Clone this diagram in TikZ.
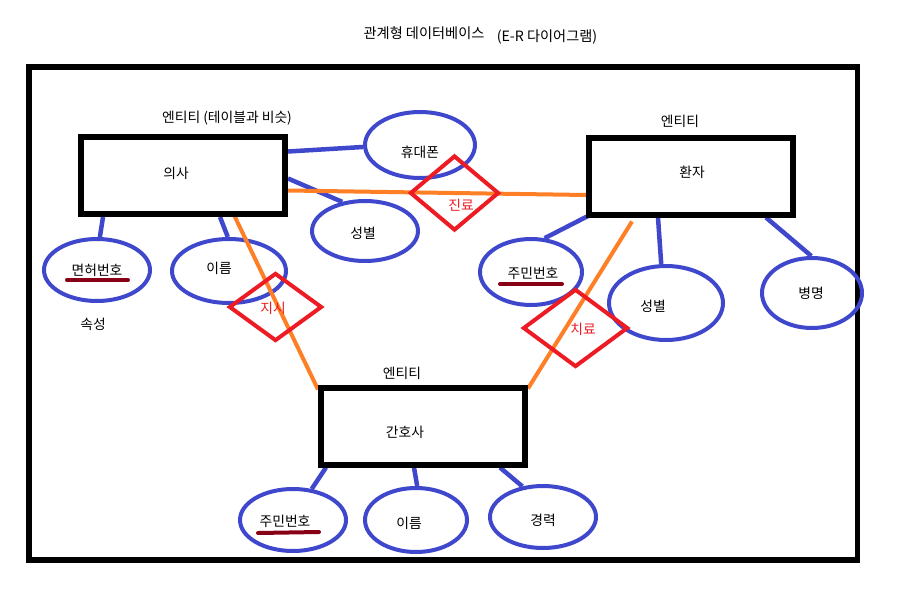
\documentclass[tikz,border=0pt]{standalone}
\usepackage{fontspec}
\setmainfont{Noto Sans CJK KR}
\usetikzlibrary{shapes.geometric}
\definecolor{pblue}{HTML}{3F48CC}
\definecolor{pred}{HTML}{ED1C24}
\definecolor{porange}{HTML}{FF7F27}
\definecolor{pdark}{HTML}{880015}
\tikzset{
  txt/.style={inner sep=0pt, font=\fontsize{13.8}{15}\selectfont},
  ttl/.style={inner sep=0pt, font=\fontsize{14.2}{16}\selectfont},
  rtxt/.style={txt, text=pred},
  entity/.style={draw=black, line width=6pt, inner sep=0pt, minimum width=204pt, minimum height=77pt},
  attr/.style={ellipse, draw=pblue, line width=4pt, inner sep=0pt},
  rel/.style={diamond, draw=pred, line width=4pt, inner sep=0pt},
  bline/.style={draw=pblue, line width=4.5pt},
  oline/.style={draw=porange, line width=4pt},
  uline/.style={draw=pdark, line width=4pt, line cap=round},
}
\begin{document}
\begin{tikzpicture}[x=1pt,y=-1pt]
\useasboundingbox (0,0) rectangle (900,610);
\fill[white] (0,0) rectangle (900,610);
% frame
\draw[line width=5.5pt] (29,67) rectangle (857.5,560);
% title
\node[ttl] (t1) at (424,33) {관계형 데이터베이스};
\node[ttl] (t2) at (547,37) {(E-R 다이어그램)};
% entities (positions)
\node[entity] (uisa) at (183,175.5) {};
\node[entity] (hwanja) at (691,176) {};
\node[entity] (ganhosa) at (423,426) {};
% attributes
\node[attr, minimum width=110pt, minimum height=66pt] (hyu) at (420,145) {};
\node[attr, minimum width=106pt, minimum height=60pt] (sbL) at (365,231) {};
\node[attr, minimum width=106pt, minimum height=62pt] (myeon) at (97,270) {};
\node[attr, minimum width=114pt, minimum height=64pt] (ireumL) at (229,271) {};
\node[attr, minimum width=102pt, minimum height=66pt] (jumR) at (531,272) {};
\node[attr, minimum width=114pt, minimum height=74pt] (sbR) at (666,303) {};
\node[attr, minimum width=100pt, minimum height=70pt] (byeong) at (812,293) {};
\node[attr, minimum width=106pt, minimum height=62pt] (jumB) at (293,520) {};
\node[attr, minimum width=102pt, minimum height=64pt] (ireumB) at (416,520) {};
\node[attr, minimum width=106pt, minimum height=62pt] (gyeong) at (543,517) {};
% attribute connectors
\draw[bline] ([yshift=24pt]uisa.east) -- (hyu.182);
\draw[bline] ([yshift=-3pt]uisa.east) -- (sbL.128);
\draw[bline] ([xshift=25pt]uisa.south west) -- (myeon.85);
\draw[bline] ([xshift=142pt]uisa.south west) -- (ireumL.92);
\draw[bline] ([xshift=3pt,yshift=2pt]hwanja.south west) -- (jumR.68);
\draw[bline] ([xshift=72pt]hwanja.south west) -- (sbR.97);
\draw[bline] ([xshift=180pt]hwanja.south west) -- (byeong.91);
\draw[bline] ([xshift=8pt]ganhosa.south west) -- (jumB.59);
\draw[bline] ([xshift=96pt]ganhosa.south west) -- (ireumB.88);
\draw[bline] ([xshift=182pt]ganhosa.south west) -- (gyeong.124);
% relationship lines
\draw[oline] ([yshift=-15pt]uisa.east) -- ([yshift=-19pt]hwanja.west);
\draw[oline] ([xshift=156pt,yshift=2pt]uisa.south west) -- ([yshift=-5pt]ganhosa.north west);
\draw[oline] ([xshift=46pt,yshift=-4pt]hwanja.south west) -- ([yshift=-4pt]ganhosa.north east);
% relationships
\node[rel, minimum width=89pt, minimum height=75pt] (jinryo) at (454.5,193) {};
\node[rel, minimum width=93pt, minimum height=68pt] (jisi) at (275.5,307) {};
\node[rel, minimum width=105pt, minimum height=78pt] (chiryo) at (575.5,328) {};
% redraw entity borders on top
\node[entity] at (uisa) {};
\node[entity] at (hwanja) {};
\node[entity] at (ganhosa) {};
% texts
\node[txt] (l1) at (227,118) {엔티티 (테이블과 비슷)};
\node[txt] (l2) at (680,121) {엔티티};
\node[txt] (l3) at (402,373) {엔티티};
\node[txt] (uisaT) at (176,173) {의사};
\node[txt] (hwanjaT) at (692,172) {환자};
\node[txt] (ganhosaT) at (405,432) {간호사};
\node[txt] at (420,152) {휴대폰};
\node[txt] at (363,233) {성별};
\node[txt] (myeonT) at (97,270) {면허번호};
\node[txt] at (219,268) {이름};
\node[txt] (jumRT) at (533,273) {주민번호};
\node[txt] at (653,306) {성별};
\node[txt] at (811,293) {병명};
\node[txt] (jumBT) at (285,521) {주민번호};
\node[txt] at (409,523) {이름};
\node[txt] at (543,520) {경력};
\node[txt] (sokseong) at (93,324) {속성};
\node[rtxt] at (461,205) {진료};
\node[rtxt] at (273,308) {지시};
\node[rtxt] at (583,329) {치료};
% underlines
\draw[uline] (67,280) -- (128,280);
\draw[uline] (500,284) -- (562,284);
\draw[uline] (258,533) -- (319,532);
\end{tikzpicture}
\end{document}
